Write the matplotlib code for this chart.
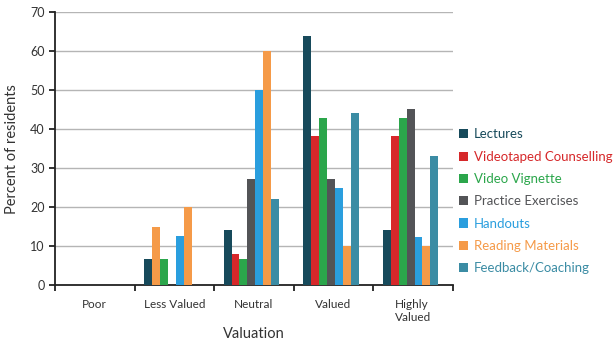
import matplotlib.pyplot as plt
import numpy as np

plt.rcParams['font.family'] = ['Lato', 'DejaVu Sans']

categories = ['Poor', 'Less Valued', 'Neutral', 'Valued', 'Highly\nValued']
series = ['Lectures', 'Videotaped Counselling', 'Video Vignette', 'Practice Exercises',
          'Handouts', 'Reading Materials', 'Feedback/Coaching']
colors = ['#174a5b', '#d6282a', '#2ba64b', '#535457', '#2a9ede', '#f59a48', '#3b8ca4']

lectures = [0, 6.7, 14, 64, 14.2]
videotaped = [0, 15, 8, 38.2, 38.2]
vignette = [0, 6.7, 6.7, 43, 43]
practice = [0, 0, 27.2, 27.2, 45.2]
handouts = [0, 12.5, 50, 24.8, 12.4]
reading = [0, 20, 60, 10, 10]
feedback = [0, 0, 22.2, 44.2, 33.1]
values = [lectures, videotaped, vignette, practice, handouts, reading, feedback]

# the Less Valued counselling bar is printed in the reading-materials colour
bar_colors = [[c] * len(categories) for c in colors]
bar_colors[1][1] = colors[5]

fig = plt.figure(figsize=(6.14, 3.45), dpi=100)
ax = fig.add_axes([0.0896, 0.174, 0.648, 0.79])

x = np.arange(len(categories))
w = 0.1
start = -0.382
for i, (name, vals) in enumerate(zip(series, values)):
    ax.bar(x + start + i * w, vals, width=w, align='edge', color=bar_colors[i],
           label=name, zorder=3)

ax.set_xlim(-0.5, len(categories) - 0.5)
ax.set_ylim(0, 70)
ax.set_yticks(range(0, 71, 10))
ax.yaxis.grid(True, color='#b5b5b5', lw=1, zorder=0)
for s in ['top', 'right']:
    ax.spines[s].set_visible(False)
ax.spines['left'].set_color('#222222')
ax.spines['bottom'].set_color('#222222')
ax.spines['left'].set_linewidth(1.3)
ax.spines['bottom'].set_linewidth(1.3)

ax.set_xticks(np.arange(len(categories) + 1) - 0.5)
ax.set_xticklabels([])
ax.set_xticks(x, minor=True)
ax.set_xticklabels(categories, minor=True, fontsize=8.5, color='#333333', multialignment='left')
ax.tick_params(axis='x', which='major', length=4, width=1.3, color='#222222')
ax.tick_params(axis='x', which='minor', length=0, pad=10)
ax.tick_params(axis='y', length=4, width=1.3, color='#222222', labelsize=9, labelcolor='#333333')

ax.set_xlabel('Valuation', fontsize=10.5, color='#333333')
ax.xaxis.set_label_coords(0.5, -0.155)
ax.set_ylabel('Percent of residents', fontsize=10.5, color='#333333')
ax.yaxis.set_label_coords(-0.09, 0.5)

handles, labels = ax.get_legend_handles_labels()
leg = fig.legend(handles, labels, loc='upper left', bbox_to_anchor=(0.728, 0.662),
                 frameon=False, fontsize=9.5, handlelength=0.7, handleheight=0.7,
                 handletextpad=0.45, labelspacing=0.78, labelcolor=colors)

fig.savefig('out.png', dpi=100)
